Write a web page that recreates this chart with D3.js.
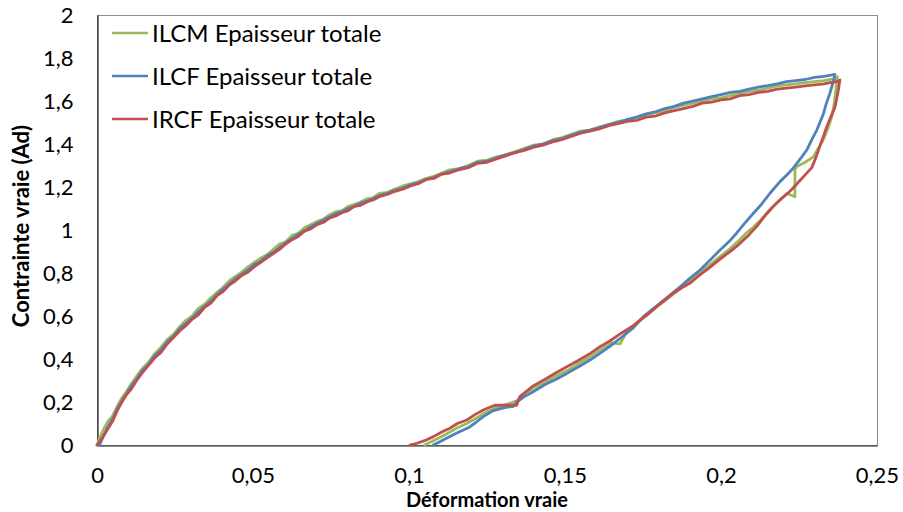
<!DOCTYPE html>
<html>
<head>
<meta charset="utf-8">
<script src="https://cdn.jsdelivr.net/npm/d3@7"></script>
<style>
  html, body { margin: 0; padding: 0; background: #fff; }
  svg { display: block; }
  text { font-family: Lato, "Open Sans", sans-serif; fill: #000; }
</style>
</head>
<body>
<svg id="chart" width="903" height="512"></svg>
<script>
// ---------- DATA ----------
const seriesNames = ["ILCM Epaisseur totale", "ILCF Epaisseur totale", "IRCF Epaisseur totale"];
const seriesColors = ["#9BBB59", "#4F81BD", "#C0504D"];

const xTickValues = [0, 0.05, 0.1, 0.15, 0.2, 0.25];
const xTickLabels = ["0", "0,05", "0,1", "0,15", "0,2", "0,25"];
const yTickValues = [0, 0.2, 0.4, 0.6, 0.8, 1, 1.2, 1.4, 1.6, 1.8, 2];
const yTickLabels = ["0", "0,2", "0,4", "0,6", "0,8", "1", "1,2", "1,4", "1,6", "1,8", "2"];

// ILCM (green): loading then unloading
const ilcmLoading = [
  [0,0],[0.0008,0.03],[0.002,0.07],[0.0035,0.11],[0.005,0.135],[0.0065,0.18],[0.008,0.22],[0.0095,0.25],
  [0.011,0.285],[0.0127,0.32],[0.0145,0.355],[0.0165,0.385],[0.0185,0.425],[0.0205,0.455],[0.0225,0.49],
  [0.0245,0.515],[0.0265,0.55],[0.0285,0.58],[0.0305,0.60],[0.0325,0.635],[0.0345,0.655],[0.0365,0.685],
  [0.0385,0.71],[0.0405,0.735],[0.0425,0.765],[0.0445,0.785],[0.0465,0.805],[0.0485,0.83],[0.0505,0.85],
  [0.0525,0.87],[0.0545,0.885],[0.0565,0.91],[0.0585,0.935],[0.0605,0.945],[0.0625,0.975],[0.0645,0.985],
  [0.0665,1.01],[0.0685,1.025],[0.0705,1.04],[0.0725,1.05],[0.0745,1.07],[0.0765,1.085],[0.0785,1.09],
  [0.0805,1.11],[0.0825,1.12],[0.0845,1.13],[0.0865,1.145],[0.0885,1.15],[0.0905,1.17],[0.093,1.175],
  [0.0955,1.19],[0.098,1.205],[0.1005,1.215],[0.103,1.225],[0.1055,1.24],[0.108,1.25],[0.1105,1.265],
  [0.113,1.28],[0.116,1.285],[0.119,1.30],[0.122,1.32],[0.125,1.325],[0.128,1.34],[0.131,1.35],
  [0.134,1.365],[0.137,1.38],[0.140,1.395],[0.143,1.40],[0.146,1.42],[0.149,1.43],[0.152,1.445],
  [0.155,1.46],[0.158,1.465],[0.161,1.48],[0.164,1.49],[0.167,1.505],[0.170,1.51],[0.173,1.525],
  [0.176,1.535],[0.179,1.545],[0.182,1.555],[0.185,1.57],[0.188,1.58],[0.191,1.59],[0.194,1.60],
  [0.197,1.61],[0.200,1.615],[0.203,1.625],[0.206,1.635],[0.209,1.645],[0.212,1.65],[0.215,1.66],
  [0.218,1.67],[0.221,1.675],[0.224,1.68],[0.227,1.685],[0.230,1.69],[0.233,1.695],[0.235,1.70],
  [0.2365,1.705],[0.2373,1.713]
];
const ilcmUnloading = [
  [0.2368,1.65],[0.2362,1.58],[0.2355,1.527],[0.2342,1.47],[0.2328,1.42],[0.2312,1.38],[0.2296,1.34],
  [0.227,1.315],[0.2243,1.295],[0.2237,1.28],[0.2237,1.155],[0.2211,1.17],[0.2189,1.14],[0.216,1.10],
  [0.213,1.05],[0.2105,1.015],[0.208,0.985],[0.206,0.955],[0.203,0.915],[0.2,0.88],[0.197,0.845],
  [0.194,0.81],[0.191,0.775],[0.188,0.74],[0.185,0.705],[0.182,0.67],[0.179,0.64],[0.176,0.60],
  [0.173,0.565],[0.17,0.53],[0.1676,0.47],[0.165,0.475],[0.1612,0.44],[0.158,0.41],[0.1545,0.38],
  [0.1506,0.345],[0.147,0.32],[0.1435,0.29],[0.1398,0.265],[0.137,0.235],[0.1345,0.205],[0.1315,0.19],
  [0.128,0.175],[0.1238,0.145],[0.121,0.12],[0.1185,0.10],[0.1155,0.08],[0.1131,0.06],[0.1105,0.04],
  [0.1078,0.02],[0.105,0]
];

// ILCF (blue)
const ilcfLoading = [
  [0.0008,0],[0.002,0.04],[0.0035,0.085],[0.005,0.12],[0.0065,0.17],[0.008,0.205],[0.0095,0.24],
  [0.011,0.275],[0.0127,0.305],[0.0145,0.345],[0.0165,0.375],[0.0185,0.415],[0.0205,0.44],[0.0225,0.48],
  [0.0245,0.505],[0.0265,0.54],[0.0285,0.565],[0.0305,0.59],[0.0325,0.62],[0.0345,0.645],[0.0365,0.67],
  [0.0385,0.70],[0.0405,0.725],[0.0425,0.75],[0.0445,0.775],[0.0465,0.795],[0.0485,0.815],[0.0505,0.84],
  [0.0525,0.855],[0.0545,0.88],[0.0565,0.895],[0.0585,0.92],[0.0605,0.94],[0.0625,0.96],[0.0645,0.98],
  [0.0665,0.995],[0.0685,1.015],[0.0705,1.03],[0.0725,1.045],[0.0745,1.06],[0.0765,1.075],[0.0785,1.085],
  [0.0805,1.10],[0.0825,1.11],[0.0845,1.125],[0.0865,1.135],[0.0885,1.145],[0.0905,1.16],[0.093,1.17],
  [0.0955,1.185],[0.098,1.195],[0.1005,1.21],[0.103,1.22],[0.1055,1.235],[0.108,1.245],[0.1105,1.26],
  [0.113,1.27],[0.116,1.285],[0.119,1.295],[0.122,1.315],[0.125,1.32],[0.128,1.335],[0.131,1.35],
  [0.134,1.36],[0.137,1.375],[0.140,1.39],[0.143,1.40],[0.146,1.415],[0.149,1.425],[0.152,1.44],
  [0.155,1.455],[0.158,1.465],[0.161,1.475],[0.164,1.49],[0.167,1.50],[0.170,1.515],[0.173,1.525],
  [0.176,1.54],[0.179,1.55],[0.182,1.565],[0.185,1.575],[0.188,1.59],[0.191,1.60],[0.194,1.61],
  [0.197,1.62],[0.200,1.63],[0.203,1.64],[0.206,1.645],[0.209,1.655],[0.212,1.665],[0.215,1.672],
  [0.218,1.68],[0.221,1.69],[0.224,1.695],[0.227,1.70],[0.230,1.71],[0.233,1.715],[0.2365,1.724]
];
const ilcfUnloading = [
  [0.2362,1.70],[0.2349,1.636],[0.2338,1.59],[0.2328,1.54],[0.2317,1.50],[0.2307,1.465],[0.2291,1.42],
  [0.2275,1.372],[0.2259,1.34],[0.2243,1.31],[0.2227,1.28],[0.2211,1.256],[0.2189,1.225],[0.2157,1.171],
  [0.213,1.12],[0.2104,1.078],[0.2075,1.03],[0.205,0.985],[0.2025,0.945],[0.1997,0.907],[0.1965,0.86],
  [0.1933,0.814],[0.19,0.775],[0.1869,0.736],[0.1835,0.695],[0.1804,0.659],[0.1775,0.625],[0.1751,0.597],
  [0.1719,0.545],[0.168,0.50],[0.1645,0.46],[0.1612,0.426],[0.158,0.395],[0.1545,0.365],[0.1506,0.333],
  [0.147,0.305],[0.1435,0.28],[0.1398,0.248],[0.137,0.225],[0.1345,0.2],[0.1335,0.18],[0.131,0.175],
  [0.127,0.16],[0.1238,0.132],[0.121,0.10],[0.119,0.08],[0.116,0.06],[0.1131,0.039],[0.1105,0.02],
  [0.1078,0]
];

// IRCF (red)
const ircfLoading = [
  [0,0],[0.0008,0.015],[0.002,0.04],[0.0035,0.075],[0.005,0.11],[0.0065,0.16],[0.008,0.20],[0.0095,0.235],
  [0.011,0.26],[0.0127,0.30],[0.0145,0.335],[0.0165,0.37],[0.0185,0.405],[0.0205,0.43],[0.0225,0.47],
  [0.0245,0.50],[0.0265,0.53],[0.0285,0.555],[0.0305,0.585],[0.0325,0.605],[0.0345,0.64],[0.0365,0.66],
  [0.0385,0.695],[0.0405,0.715],[0.0425,0.745],[0.0445,0.765],[0.0465,0.79],[0.0485,0.805],[0.0505,0.83],
  [0.0525,0.85],[0.0545,0.87],[0.0565,0.89],[0.0585,0.91],[0.0605,0.935],[0.0625,0.955],[0.0645,0.97],
  [0.0665,0.995],[0.0685,1.005],[0.0705,1.025],[0.0725,1.035],[0.0745,1.055],[0.0765,1.065],[0.0785,1.08],
  [0.0805,1.09],[0.0825,1.11],[0.0845,1.115],[0.0865,1.13],[0.0885,1.14],[0.0905,1.155],[0.093,1.165],
  [0.0955,1.18],[0.098,1.19],[0.1005,1.205],[0.103,1.215],[0.1055,1.235],[0.108,1.24],[0.1105,1.26],
  [0.113,1.265],[0.116,1.28],[0.119,1.29],[0.122,1.31],[0.125,1.315],[0.128,1.33],[0.131,1.345],
  [0.134,1.36],[0.137,1.37],[0.140,1.385],[0.143,1.395],[0.146,1.41],[0.149,1.42],[0.152,1.435],
  [0.155,1.45],[0.158,1.46],[0.161,1.47],[0.164,1.485],[0.167,1.495],[0.170,1.505],[0.173,1.51],
  [0.176,1.525],[0.179,1.53],[0.182,1.545],[0.185,1.555],[0.188,1.565],[0.191,1.575],[0.194,1.59],
  [0.197,1.595],[0.200,1.605],[0.203,1.61],[0.206,1.625],[0.209,1.63],[0.212,1.64],[0.215,1.645],
  [0.218,1.655],[0.221,1.66],[0.224,1.665],[0.227,1.67],[0.230,1.675],[0.233,1.68],[0.235,1.685],
  [0.237,1.69],[0.2381,1.698]
];
const ircfUnloading = [
  [0.2375,1.64],[0.2365,1.57],[0.235,1.52],[0.2339,1.48],[0.2328,1.435],[0.2317,1.39],[0.2305,1.34],
  [0.2291,1.29],[0.2272,1.26],[0.2253,1.23],[0.2237,1.205],[0.2221,1.18],[0.2205,1.16],[0.2189,1.14],
  [0.2168,1.11],[0.214,1.065],[0.2114,1.016],[0.2088,0.975],[0.2061,0.938],[0.2034,0.905],[0.2007,0.876],
  [0.198,0.845],[0.1954,0.814],[0.1927,0.785],[0.19,0.752],[0.1873,0.73],[0.1847,0.706],[0.182,0.675],
  [0.1794,0.643],[0.1767,0.61],[0.174,0.581],[0.1719,0.555],[0.168,0.52],[0.1645,0.485],[0.1612,0.457],
  [0.158,0.425],[0.1545,0.395],[0.1506,0.364],[0.147,0.335],[0.1435,0.305],[0.1398,0.275],[0.1355,0.225],
  [0.1345,0.185],[0.1275,0.185],[0.1238,0.163],[0.121,0.14],[0.1185,0.116],[0.1155,0.10],[0.1131,0.078],
  [0.1105,0.06],[0.1078,0.039],[0.105,0.02],[0.1025,0.008],[0.1003,0]
];

const seriesData = [
  ilcmLoading.concat(ilcmUnloading),
  ilcfLoading.concat(ilcfUnloading),
  ircfLoading.concat(ircfUnloading)
];

// ---------- LAYOUT ----------
const svg = d3.select("#chart");
const plot = { left: 97, right: 877, top: 15, bottom: 445 };

const x = d3.scaleLinear().domain([0, 0.25]).range([plot.left, plot.right]);
const y = d3.scaleLinear().domain([0, 2]).range([plot.bottom, plot.top]);

// plot area border
svg.append("rect")
  .attr("x", plot.left + 0.5).attr("y", plot.top + 0.5)
  .attr("width", plot.right - plot.left).attr("height", plot.bottom - plot.top)
  .attr("fill", "none").attr("stroke", "#8c8c8c").attr("stroke-width", 1);

// axes
const xAxis = d3.axisBottom(x).tickValues(xTickValues)
  .tickFormat((d, i) => xTickLabels[i]).tickSize(0).tickPadding(22);
const yAxis = d3.axisLeft(y).tickValues(yTickValues)
  .tickFormat((d, i) => yTickLabels[i]).tickSize(0).tickPadding(24);

const gx = svg.append("g").attr("transform", `translate(0,${plot.bottom + 0.5})`).call(xAxis);
const gy = svg.append("g").attr("transform", `translate(${plot.left + 0.5},0)`).call(yAxis);
[gx, gy].forEach(g => {
  g.select(".domain").attr("stroke", "#222").attr("stroke-width", 1.2);
  g.selectAll("text").attr("font-family", "Lato, 'Open Sans', sans-serif")
    .attr("font-size", 22).attr("fill", "#000");
});

// series lines
const line = d3.line().x(d => x(d[0])).y(d => y(d[1]));
svg.append("g").selectAll("path")
  .data(seriesData)
  .join("path")
  .attr("d", line)
  .attr("fill", "none")
  .attr("stroke", (d, i) => seriesColors[i])
  .attr("stroke-width", 2.8)
  .attr("stroke-linejoin", "round")
  .attr("stroke-linecap", "round");

// legend
const legend = svg.append("g");
seriesNames.forEach((name, i) => {
  const cy = 33 + i * 43;
  legend.append("line")
    .attr("x1", 112).attr("x2", 148).attr("y1", cy).attr("y2", cy)
    .attr("stroke", seriesColors[i]).attr("stroke-width", 2.6);
  legend.append("text")
    .attr("x", 152).attr("y", cy).attr("dy", "0.36em")
    .attr("font-size", 24).text(name);
});

// axis titles
svg.append("text")
  .attr("x", (plot.left + plot.right) / 2).attr("y", 507)
  .attr("text-anchor", "middle").attr("font-weight", "bold").attr("font-size", 20)
  .text("Déformation vraie");

svg.append("text")
  .attr("transform", `translate(29,226) rotate(-90)`)
  .attr("text-anchor", "middle").attr("font-weight", "bold").attr("font-size", 22)
  .text("Contrainte vraie (Ad)");
</script>
</body>
</html>
